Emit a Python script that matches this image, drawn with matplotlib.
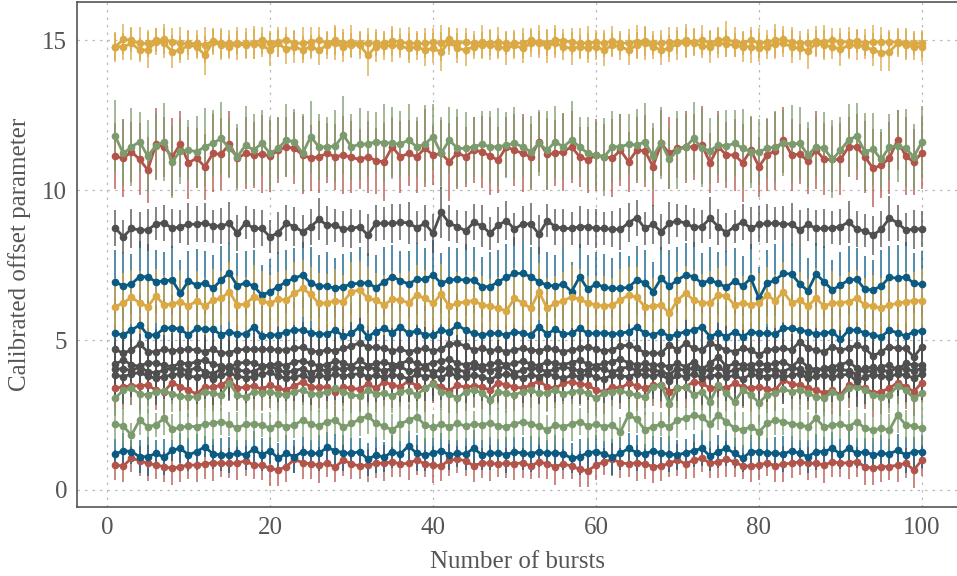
import matplotlib
matplotlib.use("Agg")
import matplotlib.pyplot as plt
import numpy as np

plt.rcParams["font.family"] = ["Liberation Serif", "DejaVu Serif"]

bursts = np.arange(1, 101)

# calibrated offset per burst (mean) for each channel
off_yel_a = [
    14.78, 15.02, 15.00, 14.89, 14.89, 15.00, 15.02, 14.94, 14.89, 14.89,
    14.89, 14.83, 14.98, 14.91, 14.89, 14.91, 14.89, 14.91, 15.00, 14.89,
    14.94, 15.00, 14.91, 14.89, 14.94, 15.00, 14.91, 15.00, 14.91, 14.94,
    14.89, 14.89, 14.91, 14.89, 14.98, 14.94, 14.89, 14.89, 14.89, 14.94,
    14.89, 15.02, 14.89, 14.94, 14.89, 14.94, 14.91, 14.94, 14.89, 14.89,
    14.91, 15.00, 14.94, 14.91, 15.00, 14.98, 14.94, 14.89, 14.91, 14.94,
    14.89, 14.98, 14.89, 14.91, 14.94, 14.98, 14.91, 14.89, 14.94, 14.94,
    15.00, 14.94, 15.00, 14.91, 15.00, 15.02, 14.94, 14.91, 15.00, 14.91,
    14.94, 15.00, 15.02, 14.94, 14.91, 14.91, 14.98, 14.94, 15.00, 14.94,
    14.94, 14.98, 14.91, 14.94, 14.94, 14.94, 14.94, 14.91, 14.91, 14.89,
]
off_yel_b = [
    14.78, 14.78, 14.89, 14.67, 14.67, 14.94, 14.91, 14.61, 14.67, 14.83,
    14.78, 14.50, 14.94, 14.83, 14.78, 14.87, 14.83, 14.87, 14.83, 14.67,
    14.89, 14.69, 14.78, 14.67, 14.78, 14.67, 14.83, 14.89, 14.78, 14.83,
    14.83, 14.50, 14.78, 14.80, 14.83, 14.80, 14.72, 14.78, 14.67, 14.72,
    14.61, 14.94, 14.72, 14.67, 14.78, 14.83, 14.83, 14.78, 14.72, 14.83,
    14.72, 14.89, 14.89, 14.80, 14.91, 14.78, 14.72, 14.78, 14.72, 14.78,
    14.67, 14.83, 14.78, 14.67, 14.83, 14.89, 14.78, 14.67, 14.72, 14.89,
    14.89, 14.91, 14.80, 14.78, 14.89, 14.87, 14.83, 14.78, 14.78, 14.72,
    14.78, 14.87, 14.89, 14.78, 14.72, 14.64, 14.89, 14.83, 14.78, 14.69,
    14.83, 14.83, 14.78, 14.67, 14.58, 14.61, 14.89, 14.83, 14.78, 14.78,
]
off_grn_hi = [
    11.80, 11.22, 11.44, 11.61, 11.13, 11.48, 11.61, 10.94, 11.31, 11.33,
    11.28, 11.44, 11.56, 11.72, 11.39, 11.11, 11.50, 11.33, 11.56, 11.22,
    11.39, 11.67, 11.61, 11.22, 11.78, 11.44, 11.44, 11.47, 11.83, 11.44,
    11.53, 11.53, 11.61, 11.58, 11.56, 11.53, 11.67, 11.44, 11.53, 11.78,
    11.22, 11.67, 11.39, 11.39, 11.44, 11.53, 11.44, 11.44, 11.50, 11.56,
    11.44, 11.28, 11.56, 11.33, 11.61, 11.44, 11.67, 11.44, 11.22, 11.17,
    11.11, 11.44, 11.44, 11.53, 11.50, 11.61, 11.13, 11.58, 11.02, 11.33,
    11.44, 11.72, 11.39, 11.31, 11.50, 11.47, 11.56, 11.39, 11.28, 11.28,
    11.39, 11.44, 11.58, 11.53, 11.56, 11.17, 11.44, 11.39, 11.02, 11.33,
    11.67, 11.80, 11.28, 11.36, 11.02, 11.44, 11.47, 11.39, 11.11, 11.61,
]
off_red_hi = [
    11.13, 11.06, 11.28, 11.02, 10.67, 11.52, 11.44, 11.11, 11.53, 10.91,
    11.06, 10.78, 11.22, 11.19, 11.53, 11.06, 11.22, 11.17, 11.20, 11.13,
    11.33, 11.44, 11.39, 11.17, 11.06, 11.11, 11.22, 11.11, 11.17, 11.09,
    11.02, 11.11, 10.98, 10.94, 11.44, 11.11, 11.22, 11.11, 11.39, 11.17,
    11.22, 10.94, 11.24, 11.11, 11.33, 11.28, 11.13, 11.00, 11.44, 11.33,
    11.22, 11.11, 11.61, 11.20, 11.22, 11.28, 11.44, 11.11, 11.00, 11.17,
    11.11, 11.06, 11.33, 10.94, 11.33, 11.31, 10.78, 11.56, 11.22, 11.39,
    11.44, 11.44, 11.50, 10.91, 11.44, 11.17, 11.17, 10.91, 11.33, 10.78,
    11.17, 11.31, 11.67, 11.17, 11.20, 10.97, 11.33, 11.02, 11.02, 11.02,
    11.44, 11.44, 11.11, 10.72, 10.83, 11.06, 11.67, 11.13, 10.94, 11.24,
]
off_gry_hi = [
    8.74, 8.44, 8.72, 8.67, 8.67, 8.87, 8.91, 8.72, 8.78, 8.86,
    8.86, 8.91, 8.80, 8.80, 8.89, 8.56, 8.91, 8.72, 8.72, 8.44,
    8.58, 8.89, 8.78, 8.61, 8.78, 9.02, 8.83, 8.83, 8.69, 8.72,
    8.78, 8.50, 8.89, 8.89, 8.89, 8.92, 8.91, 8.74, 8.89, 8.56,
    9.26, 8.89, 8.78, 8.64, 8.92, 8.81, 8.56, 8.83, 8.98, 8.70,
    8.87, 8.87, 8.53, 8.98, 8.78, 8.72, 8.72, 8.78, 8.78, 8.72,
    8.72, 8.69, 8.69, 8.91, 9.08, 8.72, 8.86, 8.61, 8.89, 8.98,
    8.89, 8.76, 8.78, 9.06, 8.78, 8.58, 8.78, 8.94, 8.72, 8.86,
    8.89, 8.89, 8.87, 8.86, 8.67, 8.86, 8.72, 8.72, 8.74, 8.78,
    8.94, 8.69, 8.64, 8.50, 8.69, 9.06, 8.91, 8.67, 8.69, 8.71,
]
off_blu_hi = [
    6.94, 6.80, 6.87, 7.11, 7.11, 6.94, 6.97, 7.00, 6.56, 6.97,
    6.83, 6.91, 6.72, 7.00, 7.24, 6.80, 6.91, 6.80, 6.50, 6.61,
    6.78, 6.94, 7.06, 7.17, 6.89, 6.80, 6.80, 6.72, 6.78, 6.87,
    6.89, 6.91, 6.74, 6.94, 7.11, 6.98, 6.87, 7.02, 7.02, 7.17,
    6.89, 7.00, 7.02, 7.00, 7.00, 6.78, 6.78, 6.94, 7.09, 7.22,
    7.22, 7.11, 6.94, 6.83, 6.80, 6.87, 6.61, 7.11, 6.69, 6.87,
    6.76, 6.72, 6.72, 6.76, 7.00, 6.91, 6.61, 7.06, 6.80, 7.00,
    7.17, 7.11, 6.89, 7.00, 6.89, 6.76, 6.97, 6.80, 7.06, 6.39,
    6.89, 7.00, 7.22, 7.20, 6.87, 6.64, 7.20, 6.94, 6.67, 6.83,
    7.00, 7.02, 6.69, 6.67, 6.80, 7.09, 7.06, 7.11, 6.89, 6.86,
]
off_yel_mid = [
    6.11, 6.24, 6.42, 6.24, 6.11, 6.47, 6.17, 6.20, 6.28, 6.13,
    6.31, 6.13, 6.33, 6.39, 6.61, 6.17, 6.20, 6.44, 6.31, 6.22,
    6.36, 6.33, 6.56, 6.72, 6.52, 6.22, 6.24, 6.31, 6.28, 6.61,
    6.67, 6.39, 6.33, 6.17, 6.36, 6.33, 6.24, 6.50, 6.39, 6.22,
    6.53, 6.13, 6.22, 6.28, 6.31, 6.17, 6.13, 6.06, 5.97, 6.39,
    6.24, 6.06, 6.61, 6.06, 6.22, 6.31, 6.44, 6.36, 6.24, 6.17,
    6.13, 6.17, 6.33, 6.50, 6.42, 6.11, 6.13, 6.17, 5.89, 6.33,
    6.56, 6.33, 6.24, 6.24, 6.50, 6.47, 6.17, 6.24, 6.17, 6.24,
    6.50, 6.31, 6.61, 6.24, 6.33, 6.13, 6.39, 6.13, 6.24, 6.24,
    6.28, 6.39, 6.17, 6.13, 6.06, 6.17, 6.22, 6.28, 6.31, 6.31,
]
off_blu_mid = [
    5.22, 5.17, 5.33, 5.50, 5.17, 5.17, 5.39, 5.41, 5.36, 5.17,
    5.39, 5.36, 5.36, 5.17, 5.28, 5.20, 5.20, 5.44, 5.13, 5.17,
    5.17, 5.28, 5.33, 5.33, 5.24, 5.20, 5.20, 5.33, 5.13, 5.22,
    5.44, 5.11, 5.28, 5.39, 5.24, 5.44, 5.22, 5.31, 5.17, 5.17,
    5.33, 5.28, 5.50, 5.33, 5.22, 5.17, 5.22, 5.22, 5.17, 5.28,
    5.22, 5.17, 5.44, 5.20, 5.36, 5.20, 5.22, 5.39, 5.22, 5.22,
    5.24, 5.20, 5.22, 5.28, 5.44, 5.22, 5.17, 5.28, 5.11, 5.20,
    5.28, 5.33, 5.44, 5.11, 5.24, 5.11, 5.28, 5.11, 5.28, 5.22,
    5.22, 5.20, 5.39, 5.39, 5.33, 5.28, 5.20, 5.22, 5.28, 5.02,
    5.33, 5.33, 5.24, 5.17, 5.11, 5.33, 5.24, 5.13, 5.28, 5.31,
]
off_gry_a = [
    4.69, 4.56, 4.67, 4.87, 4.61, 4.61, 4.69, 4.64, 4.67, 4.69,
    4.67, 4.61, 4.69, 4.56, 4.58, 4.67, 4.69, 4.69, 4.69, 4.69,
    4.67, 4.67, 4.72, 4.76, 4.64, 4.61, 4.67, 4.64, 4.72, 4.80,
    4.91, 4.76, 4.76, 4.72, 4.64, 4.69, 4.61, 4.67, 4.72, 4.64,
    4.69, 4.87, 4.89, 4.80, 4.67, 4.72, 4.64, 4.69, 4.61, 4.67,
    4.72, 4.67, 4.64, 4.72, 4.69, 4.61, 4.67, 4.72, 4.78, 4.69,
    4.64, 4.67, 4.80, 4.83, 4.72, 4.58, 4.56, 4.56, 4.83, 4.67,
    4.89, 4.72, 4.67, 4.89, 4.78, 4.67, 4.61, 4.72, 4.67, 4.50,
    4.67, 4.69, 4.72, 4.67, 4.94, 4.72, 4.67, 4.61, 4.78, 4.67,
    4.72, 4.83, 4.72, 4.47, 4.61, 4.78, 4.72, 4.72, 4.44, 4.78,
]
off_gry_b = [
    4.20, 4.33, 4.18, 4.12, 4.25, 4.22, 4.17, 4.10, 4.24, 4.20,
    4.28, 4.33, 4.19, 4.15, 4.08, 4.22, 4.26, 4.24, 4.12, 4.18,
    4.20, 4.15, 4.28, 4.30, 4.22, 4.14, 4.18, 4.30, 4.25, 4.12,
    4.33, 4.15, 4.22, 4.26, 4.18, 4.20, 4.33, 4.22, 4.15, 4.25,
    4.30, 4.36, 4.22, 4.18, 4.24, 4.12, 4.20, 4.26, 4.18, 4.22,
    4.30, 4.20, 4.14, 4.28, 4.22, 4.18, 4.25, 4.32, 4.20, 4.15,
    4.22, 4.28, 4.36, 4.24, 4.18, 4.22, 4.17, 4.17, 4.11, 4.22,
    4.11, 4.28, 4.02, 4.22, 4.44, 4.11, 4.22, 4.17, 4.17, 4.22,
    4.17, 4.22, 4.28, 4.11, 4.33, 4.11, 4.00, 4.06, 4.11, 4.17,
    4.28, 4.06, 4.00, 3.94, 4.11, 4.17, 4.00, 4.22, 4.17, 4.17,
]
off_gry_c = [
    4.02, 4.05, 3.98, 4.10, 3.95, 3.90, 4.00, 4.06, 4.03, 3.98,
    4.08, 3.95, 3.88, 4.02, 4.12, 4.00, 3.96, 3.94, 4.10, 4.15,
    4.00, 3.92, 3.98, 4.05, 3.90, 4.02, 3.98, 4.06, 4.02, 4.08,
    4.05, 4.10, 4.03, 3.98, 4.05, 4.12, 3.96, 4.00, 4.08, 3.92,
    4.02, 4.06, 4.00, 3.95, 4.10, 4.02, 3.98, 4.05, 4.12, 3.90,
    4.00, 4.08, 4.03, 3.95, 4.02, 4.10, 4.05, 3.96, 4.00, 4.08,
    4.02, 3.92, 4.05, 4.10, 3.98, 4.02, 4.00, 3.95, 3.85, 4.05,
    3.98, 4.08, 3.95, 4.02, 4.10, 3.92, 4.00, 4.06, 4.02, 3.98,
    4.05, 4.00, 3.95, 4.08, 4.02, 3.90, 4.00, 4.05, 3.96, 4.02,
    3.98, 3.85, 4.06, 4.10, 4.00, 3.95, 4.08, 4.02, 3.98, 4.05,
]
off_gry_d = [
    3.83, 3.78, 3.86, 3.92, 3.80, 3.72, 3.78, 3.84, 3.88, 3.80,
    3.76, 3.85, 3.70, 3.82, 3.90, 3.80, 3.74, 3.78, 3.86, 3.92,
    3.80, 3.72, 3.76, 3.84, 3.70, 3.82, 3.78, 3.86, 3.80, 3.84,
    3.88, 3.78, 3.82, 3.76, 3.84, 3.80, 3.70, 3.86, 3.78, 3.82,
    3.74, 3.90, 3.80, 3.76, 3.84, 3.78, 3.68, 3.82, 3.86, 3.80,
    3.74, 3.84, 3.78, 3.88, 3.80, 3.72, 3.82, 3.78, 3.86, 3.76,
    3.70, 3.84, 3.80, 3.78, 3.88, 3.82, 3.80, 3.86, 3.65, 3.82,
    3.78, 3.88, 3.74, 3.80, 3.84, 3.76, 3.82, 3.70, 3.86, 3.80,
    3.78, 3.84, 3.76, 3.82, 3.88, 3.72, 3.80, 3.84, 3.78, 3.82,
    3.86, 3.62, 3.78, 3.84, 3.80, 3.76, 3.88, 3.82, 3.74, 3.86,
]
off_red_mid = [
    3.39, 3.44, 3.47, 3.47, 3.50, 3.33, 3.28, 3.58, 3.44, 3.33,
    3.20, 3.44, 3.42, 3.50, 3.67, 3.39, 3.44, 3.47, 3.36, 3.50,
    3.39, 3.33, 3.47, 3.61, 3.44, 3.42, 3.44, 3.28, 3.44, 3.39,
    3.36, 3.53, 3.39, 3.61, 3.50, 3.44, 3.64, 3.47, 3.39, 3.56,
    3.44, 3.31, 3.50, 3.42, 3.47, 3.44, 3.33, 3.58, 3.50, 3.44,
    3.39, 3.50, 3.64, 3.44, 3.39, 3.56, 3.61, 3.53, 3.50, 3.33,
    3.28, 3.44, 3.39, 3.56, 3.47, 3.39, 3.50, 3.50, 3.28, 3.39,
    3.44, 3.61, 3.56, 3.39, 3.44, 3.39, 3.56, 3.44, 3.39, 3.44,
    3.36, 3.33, 3.67, 3.53, 3.50, 3.39, 3.33, 3.24, 3.33, 3.17,
    3.50, 3.47, 3.39, 3.24, 3.28, 3.39, 3.58, 3.44, 3.28, 3.58,
]
off_grn_mid = [
    3.06, 3.33, 3.39, 3.20, 3.17, 3.28, 3.31, 3.20, 3.13, 3.09,
    3.11, 3.28, 3.22, 3.17, 3.56, 3.17, 3.09, 3.28, 3.24, 3.28,
    3.20, 3.17, 3.28, 3.33, 3.20, 3.20, 3.28, 3.39, 3.28, 3.17,
    3.13, 3.33, 3.20, 3.22, 3.13, 3.28, 3.31, 3.17, 3.39, 3.53,
    3.28, 3.20, 3.06, 3.28, 3.33, 3.24, 3.00, 3.28, 3.22, 3.17,
    3.28, 3.33, 3.22, 3.24, 3.33, 3.20, 3.28, 3.31, 3.22, 3.06,
    3.22, 3.28, 3.31, 3.22, 3.17, 3.09, 3.44, 3.50, 2.87, 3.39,
    3.44, 3.17, 3.28, 2.94, 3.50, 3.22, 2.94, 3.33, 3.17, 2.91,
    3.17, 3.22, 3.36, 3.28, 3.33, 3.22, 3.11, 3.06, 3.28, 3.11,
    3.39, 3.44, 3.33, 3.17, 3.11, 3.17, 3.47, 3.33, 3.06, 3.22,
]
off_grn_low = [
    2.20, 2.13, 1.83, 2.33, 2.11, 2.17, 2.39, 2.02, 2.09, 2.13,
    2.11, 2.20, 2.22, 2.28, 2.20, 2.06, 2.20, 2.20, 2.17, 2.06,
    2.20, 2.11, 2.17, 2.33, 2.20, 2.13, 2.28, 2.33, 2.09, 2.22,
    2.36, 2.47, 2.22, 2.13, 2.00, 2.20, 2.33, 2.44, 2.17, 2.09,
    2.20, 2.11, 2.22, 2.13, 2.20, 2.17, 2.24, 2.13, 2.11, 2.20,
    2.28, 2.20, 2.13, 2.00, 2.17, 2.11, 2.20, 2.28, 2.13, 2.20,
    2.11, 2.17, 1.94, 2.50, 2.36, 2.00, 2.11, 2.20, 2.11, 2.33,
    2.39, 2.50, 2.42, 2.20, 2.50, 2.28, 2.06, 2.00, 2.11, 1.94,
    2.22, 2.33, 2.28, 2.20, 2.17, 2.11, 2.39, 2.09, 2.17, 2.20,
    2.11, 2.28, 2.06, 2.00, 2.06, 2.00, 2.50, 2.17, 2.13, 2.06,
]
off_blu_low = [
    1.20, 1.31, 1.28, 1.11, 1.11, 1.22, 1.09, 1.33, 1.39, 1.17,
    1.28, 1.44, 1.20, 1.17, 1.17, 1.22, 1.17, 1.36, 1.17, 1.31,
    1.06, 1.22, 1.11, 1.28, 1.22, 1.22, 1.42, 1.31, 1.24, 1.22,
    1.28, 1.02, 1.17, 1.09, 1.28, 1.20, 1.47, 1.22, 1.17, 1.22,
    1.31, 1.17, 1.22, 1.20, 1.39, 1.17, 1.22, 1.24, 1.17, 1.28,
    1.22, 1.20, 1.28, 1.22, 1.24, 1.20, 1.06, 1.11, 1.24, 1.28,
    1.20, 1.09, 1.22, 1.39, 1.24, 1.20, 1.31, 1.22, 1.20, 1.17,
    1.24, 1.31, 1.39, 1.13, 1.28, 1.39, 1.22, 1.06, 1.28, 1.28,
    1.24, 1.22, 1.20, 1.31, 1.22, 1.11, 1.28, 1.28, 1.39, 1.20,
    1.39, 1.22, 1.28, 1.17, 1.22, 1.20, 1.33, 1.17, 1.28, 1.28,
]
off_red_low = [
    0.83, 0.80, 1.06, 0.98, 0.89, 0.83, 0.78, 0.72, 0.78, 0.83,
    0.83, 0.87, 0.91, 0.89, 0.89, 0.89, 0.98, 0.83, 0.83, 0.72,
    0.67, 0.78, 1.02, 0.91, 0.87, 0.83, 0.89, 0.76, 1.00, 0.87,
    0.80, 0.83, 0.89, 0.89, 0.94, 0.87, 0.89, 1.00, 0.87, 0.83,
    0.80, 1.00, 1.02, 0.98, 0.80, 0.91, 0.89, 0.87, 0.89, 0.87,
    0.91, 0.80, 0.94, 0.87, 0.78, 0.87, 0.80, 0.69, 0.64, 0.83,
    0.94, 1.02, 0.91, 0.87, 0.91, 0.87, 0.78, 0.80, 0.89, 1.00,
    0.87, 1.00, 1.06, 0.89, 0.94, 1.02, 0.94, 0.80, 0.80, 0.83,
    0.91, 0.80, 0.87, 0.89, 0.94, 0.89, 0.89, 0.83, 0.94, 0.89,
    0.91, 0.94, 0.78, 0.72, 0.78, 0.78, 0.83, 0.89, 0.67, 1.00,
]

# spread (one standard deviation) per burst for each channel
err_yel_a = [
    0.45, 0.50, 0.40, 0.55, 0.45, 0.40, 0.50, 0.45, 0.55, 0.40,
    0.45, 0.60, 0.40, 0.50, 0.45, 0.40, 0.50, 0.55, 0.45, 0.40,
    0.50, 0.45, 0.40, 0.55, 0.50, 0.45, 0.40, 0.50, 0.45, 0.55,
    0.40, 0.50, 0.45, 0.40, 0.50, 0.45, 0.55, 0.40, 0.50, 0.45,
    0.60, 0.40, 0.50, 0.45, 0.40, 0.55, 0.45, 0.50, 0.40, 0.45,
    0.50, 0.40, 0.55, 0.45, 0.50, 0.40, 0.45, 0.50, 0.55, 0.40,
    0.45, 0.50, 0.40, 0.45, 0.55, 0.50, 0.40, 0.45, 0.50, 0.40,
    0.55, 0.45, 0.50, 0.40, 0.45, 0.60, 0.50, 0.40, 0.45, 0.50,
    0.40, 0.55, 0.45, 0.50, 0.40, 0.45, 0.50, 0.55, 0.40, 0.45,
    0.50, 0.40, 0.45, 0.55, 0.50, 0.40, 0.45, 0.50, 0.40, 0.45,
]
err_yel_b = [
    0.50, 0.45, 0.55, 0.40, 0.60, 0.45, 0.50, 0.55, 0.45, 0.50,
    0.40, 0.65, 0.45, 0.50, 0.40, 0.55, 0.45, 0.50, 0.40, 0.55,
    0.45, 0.50, 0.55, 0.45, 0.40, 0.50, 0.45, 0.55, 0.50, 0.40,
    0.45, 0.70, 0.50, 0.45, 0.55, 0.40, 0.50, 0.45, 0.55, 0.50,
    0.65, 0.45, 0.50, 0.55, 0.40, 0.45, 0.50, 0.40, 0.55, 0.45,
    0.50, 0.45, 0.40, 0.55, 0.50, 0.45, 0.55, 0.40, 0.50, 0.45,
    0.55, 0.40, 0.45, 0.50, 0.45, 0.55, 0.40, 0.50, 0.45, 0.55,
    0.50, 0.45, 0.40, 0.55, 0.50, 0.45, 0.40, 0.50, 0.55, 0.45,
    0.40, 0.50, 0.45, 0.55, 0.40, 0.60, 0.45, 0.50, 0.40, 0.55,
    0.45, 0.50, 0.40, 0.55, 0.60, 0.65, 0.45, 0.50, 0.45, 0.50,
]
err_grn_hi = [
    1.2, 1.1, 1.3, 1.0, 1.2, 1.1, 1.3, 1.2, 1.1, 1.0,
    1.2, 1.3, 1.1, 1.2, 1.0, 1.1, 1.3, 1.2, 1.1, 1.2,
    1.0, 1.2, 1.1, 1.3, 1.2, 1.1, 1.0, 1.2, 1.3, 1.1,
    1.2, 1.1, 1.0, 1.3, 1.2, 1.1, 1.2, 1.0, 1.3, 1.1,
    1.2, 1.1, 1.3, 1.2, 1.0, 1.1, 1.2, 1.3, 1.1, 1.2,
    1.0, 1.2, 1.1, 1.3, 1.2, 1.1, 1.3, 1.0, 1.2, 1.1,
    1.3, 1.2, 1.1, 1.0, 1.2, 1.3, 1.1, 1.2, 1.0, 1.3,
    1.1, 1.2, 1.3, 1.1, 1.0, 1.2, 1.1, 1.3, 1.2, 1.1,
    1.0, 1.2, 1.1, 1.3, 1.2, 1.1, 1.0, 1.2, 1.3, 1.1,
    1.2, 1.1, 1.3, 1.2, 1.0, 1.1, 1.2, 1.3, 1.1, 1.2,
]
err_red_hi = [
    1.1, 1.3, 1.0, 1.2, 1.1, 1.2, 1.0, 1.3, 1.1, 1.2,
    1.0, 1.1, 1.3, 1.2, 1.1, 1.0, 1.2, 1.1, 1.3, 1.2,
    1.1, 1.0, 1.2, 1.3, 1.1, 1.2, 1.0, 1.1, 1.3, 1.2,
    1.0, 1.2, 1.1, 1.3, 1.0, 1.2, 1.1, 1.2, 1.3, 1.0,
    1.1, 1.3, 1.2, 1.0, 1.1, 1.2, 1.3, 1.1, 1.0, 1.2,
    1.3, 1.1, 1.0, 1.2, 1.1, 1.3, 1.2, 1.0, 1.1, 1.2,
    1.1, 1.3, 1.2, 1.0, 1.1, 1.2, 1.3, 1.1, 1.2, 1.0,
    1.2, 1.1, 1.3, 1.0, 1.2, 1.1, 1.2, 1.3, 1.1, 1.0,
    1.2, 1.3, 1.1, 1.2, 1.0, 1.1, 1.3, 1.2, 1.1, 1.2,
    1.0, 1.1, 1.2, 1.3, 1.1, 1.2, 1.0, 1.3, 1.1, 1.2,
]
err_gry_hi = [
    0.60, 0.55, 0.65, 0.60, 0.70, 0.55, 0.60, 0.65, 0.55, 0.70,
    0.60, 0.65, 0.55, 0.60, 0.70, 0.60, 0.55, 0.65, 0.60, 0.55,
    0.70, 0.60, 0.65, 0.55, 0.60, 0.70, 0.65, 0.55, 0.60, 0.65,
    0.55, 0.70, 0.60, 0.55, 0.65, 0.60, 0.70, 0.55, 0.60, 0.65,
    0.85, 0.60, 0.55, 0.65, 0.60, 0.70, 0.55, 0.60, 0.65, 0.55,
    0.60, 0.70, 0.65, 0.55, 0.60, 0.65, 0.55, 0.70, 0.60, 0.65,
    0.55, 0.60, 0.70, 0.65, 0.60, 0.55, 0.65, 0.60, 0.70, 0.55,
    0.60, 0.65, 0.55, 0.70, 0.60, 0.65, 0.55, 0.60, 0.70, 0.60,
    0.65, 0.55, 0.60, 0.70, 0.65, 0.55, 0.60, 0.65, 0.55, 0.60,
    0.70, 0.60, 0.55, 0.65, 0.60, 0.75, 0.60, 0.55, 0.65, 0.60,
]
err_blu_hi = [
    1.05, 1.15, 1.00, 1.20, 1.10, 1.05, 0.95, 1.15, 1.10, 1.00,
    1.20, 1.05, 1.10, 1.15, 1.00, 1.10, 1.05, 1.20, 1.00, 1.10,
    1.15, 1.05, 1.00, 1.10, 1.20, 1.05, 1.15, 1.00, 1.10, 1.05,
    1.20, 1.00, 1.10, 1.15, 1.05, 1.00, 1.10, 1.20, 1.05, 1.15,
    1.00, 1.10, 1.05, 1.20, 1.10, 1.00, 1.15, 1.05, 1.10, 1.20,
    1.05, 1.00, 1.15, 1.10, 1.05, 1.20, 1.00, 1.10, 1.15, 1.05,
    1.10, 1.00, 1.20, 1.05, 1.15, 1.10, 1.00, 1.05, 1.20, 1.10,
    1.05, 1.15, 1.00, 1.10, 1.05, 1.20, 1.10, 1.00, 1.15, 1.05,
    1.10, 1.20, 1.05, 1.00, 1.15, 1.10, 1.05, 1.20, 1.00, 1.10,
    1.15, 1.05, 1.10, 1.00, 1.20, 1.05, 1.10, 1.15, 1.00, 1.10,
]
err_yel_mid = [
    0.95, 1.00, 0.90, 1.05, 0.95, 0.90, 1.00, 0.95, 1.05, 0.90,
    1.00, 0.95, 1.05, 0.90, 1.00, 0.95, 0.90, 1.05, 1.00, 0.95,
    0.90, 1.00, 1.05, 0.95, 0.90, 1.00, 0.95, 1.05, 0.90, 1.00,
    0.95, 1.05, 0.90, 1.00, 0.95, 0.90, 1.05, 1.00, 0.95, 0.90,
    1.00, 0.95, 1.05, 0.90, 1.00, 0.95, 0.90, 1.05, 0.95, 1.00,
    0.90, 1.05, 0.95, 1.00, 0.90, 0.95, 1.05, 1.00, 0.90, 0.95,
    1.00, 0.90, 1.05, 0.95, 1.00, 0.90, 0.95, 1.05, 1.00, 0.95,
    0.90, 1.00, 0.95, 1.05, 0.90, 1.00, 0.95, 0.90, 1.05, 1.00,
    0.95, 0.90, 1.00, 1.05, 0.95, 0.90, 1.00, 0.95, 1.05, 0.90,
    1.00, 0.95, 0.90, 1.05, 1.00, 0.95, 0.90, 1.00, 0.95, 1.05,
]
err_blu_mid = [
    1.00, 1.10, 0.95, 1.05, 1.15, 1.00, 0.95, 1.10, 1.05, 1.00,
    1.15, 0.95, 1.05, 1.10, 1.00, 1.05, 0.95, 1.15, 1.00, 1.10,
    1.05, 1.00, 0.95, 1.10, 1.15, 1.00, 1.05, 0.95, 1.10, 1.00,
    1.05, 1.15, 1.00, 0.95, 1.10, 1.05, 1.00, 1.15, 0.95, 1.05,
    1.10, 1.00, 1.05, 0.95, 1.15, 1.00, 1.10, 1.05, 0.95, 1.00,
    1.15, 1.05, 1.00, 1.10, 0.95, 1.05, 1.00, 1.15, 1.10, 0.95,
    1.00, 1.05, 1.10, 0.95, 1.15, 1.00, 1.05, 1.10, 0.95, 1.00,
    1.15, 1.05, 0.95, 1.10, 1.00, 1.05, 1.15, 0.95, 1.00, 1.10,
    1.05, 1.00, 0.95, 1.15, 1.10, 1.00, 1.05, 0.95, 1.10, 1.00,
    1.05, 1.15, 1.00, 0.95, 1.10, 1.05, 1.00, 1.15, 0.95, 1.05,
]
err_gry_a = [
    0.80, 0.85, 0.75, 0.90, 0.80, 0.75, 0.85, 0.80, 0.90, 0.75,
    0.85, 0.80, 0.90, 0.75, 0.80, 0.85, 0.75, 0.90, 0.80, 0.85,
    0.75, 0.80, 0.90, 0.85, 0.75, 0.80, 0.85, 0.90, 0.75, 0.80,
    0.85, 0.75, 0.80, 0.90, 0.85, 0.75, 0.80, 0.85, 0.90, 0.75,
    0.80, 0.85, 0.75, 0.90, 0.80, 0.85, 0.75, 0.80, 0.90, 0.85,
    0.75, 0.80, 0.85, 0.90, 0.75, 0.80, 0.85, 0.75, 0.90, 0.80,
    0.85, 0.75, 0.80, 0.90, 0.85, 0.75, 0.80, 0.85, 0.90, 0.75,
    0.80, 0.85, 0.75, 0.90, 0.80, 0.85, 0.75, 0.80, 0.90, 0.85,
    0.75, 0.80, 0.85, 0.90, 0.75, 0.80, 0.85, 0.75, 0.90, 0.80,
    0.85, 0.75, 0.80, 0.90, 0.85, 0.75, 0.80, 0.85, 0.90, 0.75,
]
err_gry_b = [
    0.75, 0.80, 0.85, 0.75, 0.90, 0.80, 0.85, 0.75, 0.80, 0.90,
    0.85, 0.75, 0.80, 0.85, 0.90, 0.75, 0.80, 0.85, 0.75, 0.90,
    0.80, 0.85, 0.75, 0.80, 0.90, 0.85, 0.75, 0.80, 0.85, 0.90,
    0.75, 0.80, 0.85, 0.75, 0.90, 0.80, 0.85, 0.75, 0.80, 0.90,
    0.85, 0.75, 0.80, 0.85, 0.90, 0.75, 0.80, 0.85, 0.75, 0.90,
    0.80, 0.85, 0.75, 0.80, 0.90, 0.85, 0.75, 0.80, 0.85, 0.90,
    0.75, 0.80, 0.85, 0.75, 0.90, 0.80, 0.85, 0.75, 0.80, 0.90,
    0.85, 0.75, 0.80, 0.85, 0.90, 0.75, 0.80, 0.85, 0.75, 0.90,
    0.80, 0.85, 0.75, 0.80, 0.90, 0.85, 0.75, 0.80, 0.85, 0.90,
    0.75, 0.80, 0.85, 0.75, 0.90, 0.80, 0.85, 0.75, 0.80, 0.90,
]
err_gry_c = [
    0.85, 0.75, 0.80, 0.90, 0.75, 0.85, 0.80, 0.90, 0.75, 0.80,
    0.90, 0.85, 0.75, 0.80, 0.85, 0.90, 0.75, 0.80, 0.85, 0.75,
    0.80, 0.90, 0.85, 0.75, 0.80, 0.85, 0.90, 0.75, 0.80, 0.85,
    0.90, 0.75, 0.80, 0.85, 0.75, 0.90, 0.80, 0.85, 0.75, 0.80,
    0.90, 0.85, 0.75, 0.80, 0.85, 0.90, 0.75, 0.80, 0.85, 0.75,
    0.80, 0.90, 0.85, 0.75, 0.80, 0.85, 0.90, 0.75, 0.80, 0.85,
    0.90, 0.75, 0.80, 0.85, 0.75, 0.90, 0.80, 0.85, 0.75, 0.80,
    0.90, 0.85, 0.75, 0.80, 0.85, 0.90, 0.75, 0.80, 0.85, 0.75,
    0.80, 0.90, 0.85, 0.75, 0.80, 0.85, 0.90, 0.75, 0.80, 0.85,
    0.90, 0.75, 0.80, 0.85, 0.75, 0.90, 0.80, 0.85, 0.75, 0.80,
]
err_gry_d = [
    0.80, 0.90, 0.75, 0.85, 0.80, 0.90, 0.75, 0.85, 0.80, 0.75,
    0.90, 0.80, 0.85, 0.75, 0.90, 0.80, 0.85, 0.75, 0.80, 0.90,
    0.85, 0.75, 0.80, 0.90, 0.85, 0.75, 0.80, 0.85, 0.90, 0.75,
    0.80, 0.85, 0.90, 0.75, 0.80, 0.85, 0.75, 0.90, 0.80, 0.85,
    0.75, 0.80, 0.90, 0.85, 0.75, 0.80, 0.85, 0.90, 0.75, 0.80,
    0.85, 0.75, 0.90, 0.80, 0.85, 0.75, 0.80, 0.90, 0.85, 0.75,
    0.80, 0.85, 0.90, 0.75, 0.80, 0.85, 0.75, 0.90, 0.80, 0.85,
    0.75, 0.80, 0.90, 0.85, 0.75, 0.80, 0.85, 0.90, 0.75, 0.80,
    0.85, 0.75, 0.90, 0.80, 0.85, 0.75, 0.80, 0.90, 0.85, 0.75,
    0.80, 0.85, 0.90, 0.75, 0.80, 0.85, 0.75, 0.90, 0.80, 0.85,
]
err_red_mid = [
    0.70, 0.75, 0.65, 0.80, 0.70, 0.65, 0.75, 0.70, 0.80, 0.65,
    0.75, 0.70, 0.80, 0.65, 0.70, 0.75, 0.65, 0.80, 0.70, 0.75,
    0.65, 0.70, 0.80, 0.75, 0.65, 0.70, 0.75, 0.80, 0.65, 0.70,
    0.75, 0.65, 0.70, 0.80, 0.75, 0.65, 0.70, 0.75, 0.80, 0.65,
    0.70, 0.75, 0.65, 0.80, 0.70, 0.75, 0.65, 0.70, 0.80, 0.75,
    0.65, 0.70, 0.75, 0.80, 0.65, 0.70, 0.75, 0.65, 0.80, 0.70,
    0.75, 0.65, 0.70, 0.80, 0.75, 0.65, 0.70, 0.75, 0.80, 0.65,
    0.70, 0.75, 0.65, 0.80, 0.70, 0.75, 0.65, 0.70, 0.80, 0.75,
    0.65, 0.70, 0.75, 0.80, 0.65, 0.70, 0.75, 0.65, 0.80, 0.70,
    0.75, 0.65, 0.70, 0.80, 0.75, 0.65, 0.70, 0.75, 0.80, 0.65,
]
err_grn_mid = [
    0.60, 0.50, 0.55, 0.65, 0.60, 0.40, 0.55, 0.60, 0.50, 0.65,
    0.55, 0.60, 0.50, 0.55, 0.60, 0.50, 0.65, 0.55, 0.60, 0.50,
    0.55, 0.60, 0.65, 0.50, 0.55, 0.60, 0.50, 0.55, 0.65, 0.60,
    0.50, 0.55, 0.60, 0.65, 0.55, 0.50, 0.60, 0.55, 0.65, 0.50,
    0.60, 0.55, 0.50, 0.65, 0.60, 0.55, 0.50, 0.60, 0.65, 0.55,
    0.50, 0.60, 0.55, 0.65, 0.50, 0.60, 0.55, 0.50, 0.65, 0.60,
    0.55, 0.50, 0.60, 0.65, 0.55, 0.60, 0.50, 0.55, 0.65, 0.60,
    0.55, 0.50, 0.60, 0.55, 0.65, 0.50, 0.60, 0.55, 0.50, 0.65,
    0.60, 0.55, 0.50, 0.60, 0.65, 0.55, 0.50, 0.60, 0.55, 0.65,
    0.50, 0.60, 0.55, 0.50, 0.65, 0.60, 0.55, 0.50, 0.60, 0.55,
]
err_grn_low = [
    0.55, 0.60, 0.40, 0.50, 0.60, 0.40, 0.55, 0.50, 0.60, 0.45,
    0.55, 0.50, 0.60, 0.45, 0.40, 0.55, 0.60, 0.50, 0.40, 0.55,
    0.60, 0.50, 0.45, 0.55, 0.60, 0.50, 0.55, 0.45, 0.60, 0.50,
    0.55, 0.60, 0.50, 0.45, 0.55, 0.60, 0.50, 0.55, 0.60, 0.45,
    0.50, 0.55, 0.60, 0.50, 0.45, 0.55, 0.50, 0.60, 0.55, 0.50,
    0.45, 0.60, 0.55, 0.50, 0.60, 0.50, 0.55, 0.45, 0.60, 0.50,
    0.55, 0.60, 0.50, 0.55, 0.45, 0.60, 0.50, 0.40, 0.55, 0.60,
    0.40, 0.50, 0.55, 0.60, 0.50, 0.45, 0.55, 0.60, 0.50, 0.55,
    0.60, 0.50, 0.45, 0.55, 0.60, 0.50, 0.55, 0.60, 0.45, 0.50,
    0.55, 0.60, 0.50, 0.45, 0.40, 0.55, 0.60, 0.50, 0.55, 0.60,
]
err_blu_low = [
    0.50, 0.60, 0.40, 0.55, 0.65, 0.45, 0.60, 0.35, 0.50, 0.55,
    0.60, 0.35, 0.50, 0.55, 0.60, 0.45, 0.50, 0.60, 0.55, 0.45,
    0.50, 0.60, 0.55, 0.50, 0.45, 0.60, 0.50, 0.55, 0.60, 0.50,
    0.45, 0.55, 0.60, 0.50, 0.55, 0.45, 0.50, 0.60, 0.55, 0.50,
    0.60, 0.50, 0.45, 0.55, 0.60, 0.50, 0.55, 0.45, 0.60, 0.50,
    0.55, 0.60, 0.50, 0.45, 0.60, 0.55, 0.50, 0.60, 0.50, 0.55,
    0.45, 0.60, 0.55, 0.50, 0.60, 0.35, 0.50, 0.55, 0.60, 0.50,
    0.45, 0.55, 0.60, 0.50, 0.55, 0.60, 0.50, 0.45, 0.55, 0.60,
    0.50, 0.55, 0.60, 0.50, 0.45, 0.55, 0.60, 0.50, 0.55, 0.50,
    0.60, 0.50, 0.45, 0.55, 0.60, 0.50, 0.55, 0.60, 0.50, 0.55,
]
err_red_low = [
    0.50, 0.55, 0.45, 0.50, 0.60, 0.45, 0.50, 0.55, 0.50, 0.45,
    0.55, 0.50, 0.60, 0.45, 0.50, 0.55, 0.50, 0.45, 0.50, 0.60,
    0.55, 0.50, 0.45, 0.55, 0.50, 0.60, 0.45, 0.50, 0.55, 0.50,
    0.45, 0.55, 0.50, 0.60, 0.50, 0.45, 0.55, 0.50, 0.45, 0.60,
    0.50, 0.55, 0.45, 0.50, 0.55, 0.50, 0.60, 0.45, 0.50, 0.55,
    0.50, 0.45, 0.55, 0.50, 0.60, 0.50, 0.45, 0.60, 0.55, 0.50,
    0.45, 0.55, 0.50, 0.45, 0.60, 0.50, 0.55, 0.50, 0.45, 0.55,
    0.50, 0.60, 0.45, 0.50, 0.55, 0.60, 0.50, 0.45, 0.55, 0.50,
    0.45, 0.55, 0.60, 0.50, 0.45, 0.55, 0.50, 0.60, 0.50, 0.45,
    0.55, 0.50, 0.60, 0.55, 0.50, 0.45, 0.55, 0.50, 0.60, 0.55,
]

RED = "#b3544a"
BLUE = "#0b5a82"
GREEN = "#7b9b6d"
GRAY = "#4f4f4f"
YELLOW = "#dba944"
TEXT = "#555555"

channels = [
    (off_red_low, err_red_low, RED),
    (off_red_mid, err_red_mid, RED),
    (off_red_hi, err_red_hi, RED),
    (off_blu_low, err_blu_low, BLUE),
    (off_blu_mid, err_blu_mid, BLUE),
    (off_blu_hi, err_blu_hi, BLUE),
    (off_grn_low, err_grn_low, GREEN),
    (off_grn_mid, err_grn_mid, GREEN),
    (off_grn_hi, err_grn_hi, GREEN),
    (off_gry_d, err_gry_d, GRAY),
    (off_gry_c, err_gry_c, GRAY),
    (off_gry_b, err_gry_b, GRAY),
    (off_gry_a, err_gry_a, GRAY),
    (off_gry_hi, err_gry_hi, GRAY),
    (off_yel_mid, err_yel_mid, YELLOW),
    (off_yel_b, err_yel_b, YELLOW),
    (off_yel_a, err_yel_a, YELLOW),
]

fig = plt.figure(figsize=(9.57, 5.76), dpi=100)
ax = fig.add_axes([77 / 957, 69 / 576, 880 / 957, 505 / 576])

for mean, spread, color in channels:
    ax.errorbar(bursts, mean, yerr=spread, fmt="none", ecolor=color,
                elinewidth=1.4, alpha=0.7, capsize=0, zorder=2)
for mean, spread, color in channels:
    ax.plot(bursts, mean, "-o", color=color, lw=2.0, ms=4.5, zorder=3)

ax.set_xlim(-3.68, 104.3)
ax.set_ylim(-0.567, 16.27)
ax.set_xticks([0, 20, 40, 60, 80, 100])
ax.set_yticks([0, 5, 10, 15])
ax.grid(True, linestyle=(0, (2, 4)), color="#bbbbbb", linewidth=0.9)
ax.set_axisbelow(True)

for side in ("left", "bottom", "top"):
    ax.spines[side].set_color("#555555")
    ax.spines[side].set_linewidth(1.2)
ax.spines["right"].set_visible(False)

ax.tick_params(length=0, labelsize=18, labelcolor=TEXT, pad=7)
ax.set_xlabel("Number of bursts", fontsize=18, color=TEXT, labelpad=9)
ax.set_ylabel("Calibrated offset parameter", fontsize=18, color=TEXT, labelpad=8)

fig.savefig("out.png", dpi=100, facecolor="white")
